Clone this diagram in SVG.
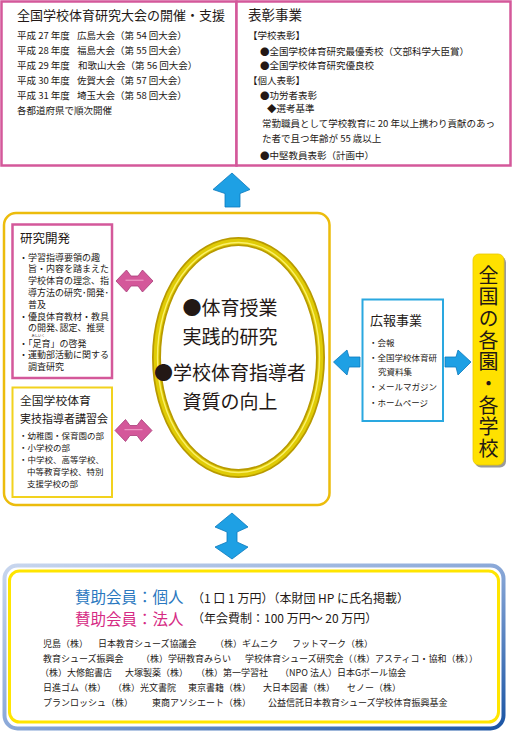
<svg xmlns="http://www.w3.org/2000/svg" width="513" height="731" viewBox="0 0 513 731">
<style>
.t{font-family:"Noto Sans CJK JP","Noto Sans",sans-serif;fill:#231815}
.f95{font-size:9.5px}
.f9{font-size:9px}
.f85{font-size:8.5px}
.f13{font-size:13px}
.mid{text-anchor:middle}
.pinkbox{fill:#fff;stroke:#d4589a;stroke-width:2.5}
.barrow{fill:#1ea0e4;stroke:#0a78bc;stroke-width:0.8;stroke-linejoin:round}
.parrow{fill:#d4589a;stroke:#a83c78;stroke-width:0.8;stroke-linejoin:round}
</style>
<defs>
<linearGradient id="blueGrad" x1="0" y1="0" x2="1" y2="1">
<stop offset="0" stop-color="#c8d6ee"/>
<stop offset="0.5" stop-color="#8aa8d8"/>
<stop offset="1" stop-color="#1a54a4"/>
</linearGradient>
<g id="pinkArrow">
<path class="parrow" d="M-18.5,0 L-8,-11 L-3.5,-5 L3.5,-5 L8,-11 L18.5,0 L8,11 L3.5,5 L-3.5,5 L-8,11 Z"/>
<line x1="-9" y1="-0.8" x2="9" y2="-0.8" stroke="#f2a6cc" stroke-width="1"/>
</g>
</defs>

<g id="top-left-box">
<rect class="pinkbox" x="1.5" y="1.5" width="235" height="164"/>
<text class="t f13" x="17" y="20">全国学校体育研究大会の開催・支援</text>
<text class="t f95" x="17" y="38.5">平成 27 年度</text><text class="t f95" x="77" y="38.5">広島大会（第 54 回大会）</text>
<text class="t f95" x="17" y="53.5">平成 28 年度</text><text class="t f95" x="77" y="53.5">福島大会（第 55 回大会）</text>
<text class="t f95" x="17" y="68.5">平成 29 年度</text><text class="t f95" x="78" y="68.5">和歌山大会（第 56 回大会）</text>
<text class="t f95" x="17" y="83.5">平成 30 年度</text><text class="t f95" x="77" y="83.5">佐賀大会（第 57 回大会）</text>
<text class="t f95" x="17" y="98.5">平成 31 年度</text><text class="t f95" x="77" y="98.5">埼玉大会（第 58 回大会）</text>
<text class="t f95" x="17" y="113.5">各都道府県で順次開催</text>
</g>

<g id="top-right-box">
<rect class="pinkbox" x="236.5" y="1.5" width="274" height="164"/>
<text class="t" x="248" y="20" font-size="13.5">表彰事業</text>
<text class="t f95" x="248" y="38.5">【学校表彰】</text>
<text class="t f95" x="260" y="55">●全国学校体育研究最優秀校（文部科学大臣賞）</text>
<text class="t f95" x="260" y="68.5">●全国学校体育研究優良校</text>
<text class="t f95" x="248" y="83.5">【個人表彰】</text>
<text class="t f95" x="260" y="98.5">●功労者表彰</text>
<text class="t f95" x="267" y="111.8">◆選考基準</text>
<text class="t f95" x="262" y="126.8">常勤職員として学校教育に 20 年以上携わり貢献のあっ</text>
<text class="t f95" x="262" y="141.8">た者で且つ年齢が 55 歳以上</text>
<text class="t f95" x="260" y="158.5">●中堅教員表彰（計画中）</text>
</g>

<g id="connectors">
<path class="barrow" d="M232,173 L250,189.5 L240,193.5 L240,207 L225,207 L225,193.5 L213,189.5 Z"/>
<use href="#pinkArrow" x="134.5" y="281"/>
<use href="#pinkArrow" x="133.5" y="430.5"/>
<path class="barrow" d="M333.5,362 L347,350 L349,357 L360,357 L360,367 L349,367 L347,375 Z"/>
<path class="barrow" d="M445,357 L456,357 L458,350 L471,362 L458,375 L456,367 L445,367 Z"/>
<path class="barrow" d="M232,513 L248,527 L237,532 L237,542 L248,547 L232,559 L215,547 L227,542 L227,532 L215,527 Z"/>
</g>

<g id="central-frame">
<rect x="4" y="213" width="325.5" height="292" rx="12" fill="none" stroke="#ecbc0c" stroke-width="2.5"/>
</g>

<g id="research-box">
<rect class="pinkbox" x="12.5" y="224.5" width="99.5" height="153.5" stroke-width="2"/>
<text class="t" x="20" y="242.5" font-size="12.5">研究開発</text>
<text class="t f9" x="19" y="260.5">・学習指導要領の趣</text>
<text class="t f9" x="28" y="272.3">旨・内容を踏まえた</text>
<text class="t f9" x="28" y="284.1">学校体育の理念、指</text>
<text class="t f9" x="28" y="295.9">導方法の研究･開発･</text>
<text class="t f9" x="28" y="307.7">普及</text>
<text class="t f9" x="19" y="319.5">・優良体育教材・教具</text>
<text class="t f9" x="28" y="331.3">の開発､認定、推奨</text>
<text class="t" x="31.5" y="337.4" font-size="3.3">あしいく</text>
<text class="t f9" x="19" y="346.6">・「足育」の啓発</text>
<text class="t f9" x="19" y="358.4">・運動部活動に関する</text>
<text class="t f9" x="28" y="370.2">調査研究</text>
</g>

<g id="training-box">
<rect x="12.5" y="387.5" width="99.5" height="109.5" fill="#fff" stroke="#f2d21e" stroke-width="2"/>
<text class="t" x="20" y="404.5" font-size="11.8">全国学校体育</text>
<text class="t" x="20" y="422.5" font-size="11">実技指導者講習会</text>
<text class="t f85" x="19" y="439">・幼稚園・保育園の部</text>
<text class="t f85" x="19" y="451">・小学校の部</text>
<text class="t f85" x="19" y="463">・中学校、高等学校、</text>
<text class="t f85" x="27" y="475">中等教育学校、特別</text>
<text class="t f85" x="27" y="487">支援学校の部</text>
</g>

<g id="core-ellipse">
<ellipse cx="238.5" cy="357.5" rx="82" ry="116" fill="#fff" stroke="#b89a00" stroke-width="9"/>
<ellipse cx="238.5" cy="357.5" rx="82" ry="116" fill="none" stroke="#e0cc06" stroke-width="5.5"/>
<ellipse cx="238.5" cy="357.5" rx="81" ry="115" fill="none" stroke="#fbf06a" stroke-width="1.4"/>
<text class="t mid" x="230" y="315" font-size="19">●体育授業</text>
<text class="t mid" x="230" y="344" font-size="19">実践的研究</text>
<text class="t mid" x="230" y="380" font-size="19">●学校体育指導者</text>
<text class="t mid" x="230" y="409" font-size="19">資質の向上</text>
</g>

<g id="pr-box">
<rect x="362.5" y="299.5" width="80.5" height="121.5" fill="#fff" stroke="#2aa8e0" stroke-width="2"/>
<text class="t f13" x="370" y="324.5">広報事業</text>
<text class="t f85" x="369" y="346">・会報</text>
<text class="t f85" x="369" y="361">・全国学校体育研</text>
<text class="t f85" x="378" y="375">究資料集</text>
<text class="t f85" x="369" y="390">・メールマガジン</text>
<text class="t f85" x="369" y="406">・ホームページ</text>
</g>

<g id="schools-box">
<rect x="475" y="256.5" width="31" height="211" rx="6" fill="#9a9a9a"/>
<rect x="473" y="254" width="31" height="211" rx="6" fill="#ffe100" stroke="#e8c800" stroke-width="0.8"/>
<text class="t" x="488.5" y="265" font-size="20" writing-mode="vertical-rl" letter-spacing="1.7">全国の各園・各学校</text>
</g>

<g id="supporters-box">
<rect x="4.5" y="565.5" width="499" height="163" rx="13" fill="#fff" stroke="url(#blueGrad)" stroke-width="4"/>
<rect x="9.5" y="571" width="489" height="151" rx="10" fill="#fff" stroke="#ffe500" stroke-width="3"/>
<text class="t" x="75" y="603" font-size="15.5" style="fill:#2a78c0">賛助会員：個人</text>
<text class="t" x="192" y="602.5" font-size="12">（1 口 1 万円）（本財団 HP に氏名掲載）</text>
<text class="t" x="75" y="625" font-size="15.5" style="fill:#d62a84">賛助会員：法人</text>
<text class="t" x="192" y="622.5" font-size="12">（年会費制：100 万円〜 20 万円）</text>
<text class="t f9" x="43" y="647.3">児島（株）</text>
<text class="t f9" x="98" y="647.3">日本教育シューズ協議会</text>
<text class="t f9" x="215" y="647.3">（株）ギムニク</text>
<text class="t f9" x="292" y="647.3">フットマーク（株）</text>
<text class="t f9" x="43" y="661.5">教育シューズ振興会</text>
<text class="t f9" x="141" y="661.5">（株）学研教育みらい</text>
<text class="t f9" x="245" y="661.5">学校体育シューズ研究会（（株）アスティコ・協和（株））</text>
<text class="t f9" x="40" y="676.3">（株）大修館書店</text>
<text class="t f9" x="125" y="676.3">大塚製薬（株）</text>
<text class="t f9" x="196" y="676.3">（株）第一学習社</text>
<text class="t f9" x="280" y="676.3">（NPO 法人）日本Gボール協会</text>
<text class="t f9" x="43" y="690.5">日進ゴム（株）</text>
<text class="t f9" x="113" y="690.5">（株）光文書院</text>
<text class="t f9" x="188" y="690.5">東京書籍（株）</text>
<text class="t f9" x="263" y="690.5">大日本図書（株）</text>
<text class="t f9" x="347" y="690.5">セノー（株）</text>
<text class="t f9" x="43" y="705.5">プランロッシュ（株）</text>
<text class="t f9" x="152" y="705.5">東商アソシエート（株）</text>
<text class="t f9" x="268" y="705.5">公益信託日本教育シューズ学校体育振興基金</text>
</g>
</svg>
